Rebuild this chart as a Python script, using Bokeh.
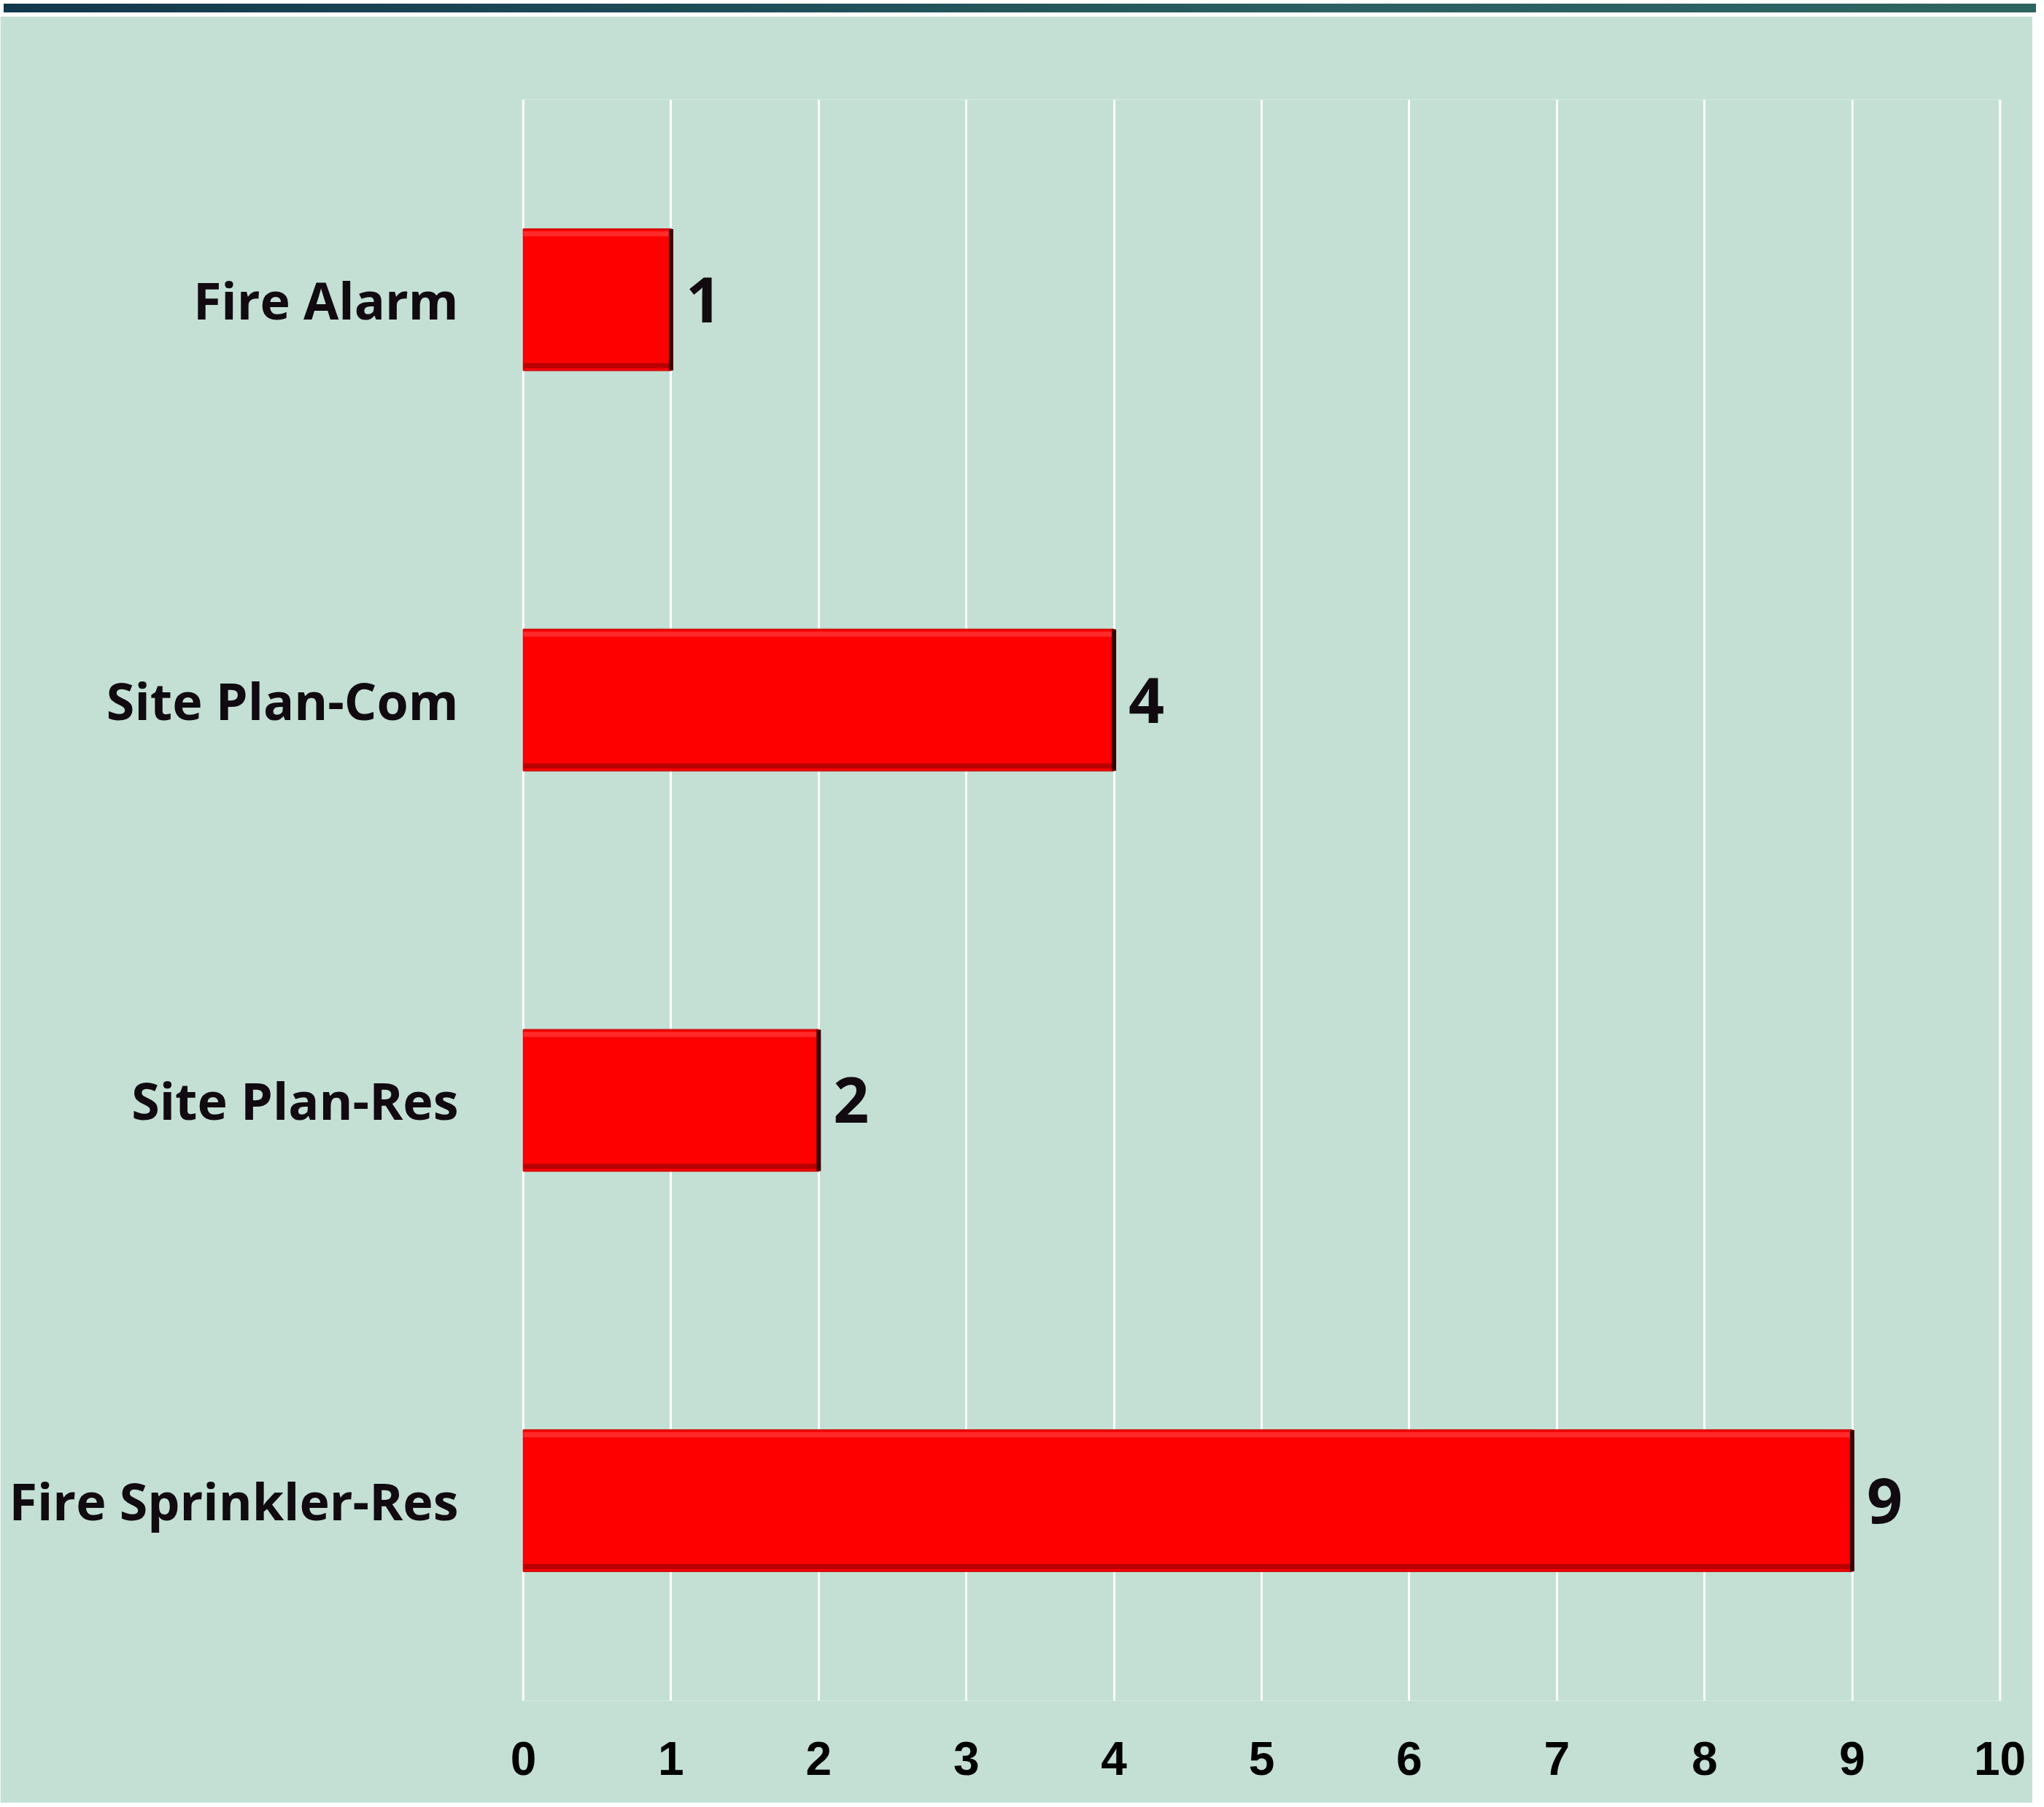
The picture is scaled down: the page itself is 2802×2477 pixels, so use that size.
from bokeh.plotting import figure
from bokeh.models import ColumnDataSource, FactorRange, Range1d, FixedTicker, Div
from bokeh.layouts import column
from bokeh.transform import dodge
from bokeh.core.properties import value
from bokeh.embed import file_html
from bokeh.resources import INLINE

# ---- data ----
categories = ["Fire Alarm", "Site Plan-Com", "Site Plan-Res", "Fire Sprinkler-Res"]
counts = [1, 4, 2, 9]
x_ticks = [0, 1, 2, 3, 4, 5, 6, 7, 8, 9, 10]

BG = "#c4e0d5"
BAR_H = 0.353
HALF = BAR_H / 2

source = ColumnDataSource(dict(
    cat=categories,
    val=counts,
    zero=[0] * len(counts),
    label=[str(v) for v in counts],
))

top_bar = Div(text="", width=2786, height=12,
              styles={"background": "linear-gradient(to right, #12384b 0%, #1d4d57 35%, #2b5f60 65%, #2d6462 100%)"})

p = figure(
    y_range=FactorRange(*reversed(categories)),
    x_range=Range1d(-0.01, 10.01),
    width=2786, height=2449,
    output_backend="svg", toolbar_location=None,
    min_border_left=715, min_border_right=43,
    min_border_top=114, min_border_bottom=140,
    background_fill_color=BG, border_fill_color=BG,
    outline_line_color=None,
)

# bars
p.hbar(y="cat", left="zero", right="val", height=BAR_H, source=source,
       fill_color="#ff0000", line_color="#d01010", line_width=2)
# bevel highlights / shadows
p.segment(x0="zero", x1="val", y0=dodge("cat", HALF - 0.012, range=p.y_range),
          y1=dodge("cat", HALF - 0.012, range=p.y_range), source=source,
          line_color="#ff2a2a", line_width=7)
p.segment(x0="zero", x1="val", y0=dodge("cat", -HALF + 0.012, range=p.y_range),
          y1=dodge("cat", -HALF + 0.012, range=p.y_range), source=source,
          line_color="#b80000", line_width=7)
p.segment(x0="val", x1="val", y0=dodge("cat", -HALF, range=p.y_range),
          y1=dodge("cat", HALF, range=p.y_range), source=source,
          line_color="#3a0000", line_width=6)

# value labels
p.text(x="val", y="cat", text="label", source=source, x_offset=20,
       text_align="left", text_baseline="middle",
       text_font=value("Open Sans"), text_font_style="bold",
       text_font_size="86px", text_color="#110a10")

# axes
p.xaxis.ticker = FixedTicker(ticks=x_ticks)
p.xaxis.axis_line_color = None
p.xaxis.major_tick_line_color = None
p.xaxis.minor_tick_line_color = None
p.xaxis.major_label_standoff = 50
p.xaxis.major_label_text_font = "Liberation Sans"
p.xaxis.major_label_text_font_style = "bold"
p.xaxis.major_label_text_font_size = "64px"
p.xaxis.major_label_text_color = "#000000"

p.yaxis.axis_line_color = None
p.yaxis.major_tick_line_color = None
p.yaxis.minor_tick_line_color = None
p.yaxis.major_label_standoff = 81
p.yaxis.major_label_text_font = "Open Sans"
p.yaxis.major_label_text_font_style = "bold"
p.yaxis.major_label_text_font_size = "70px"
p.yaxis.major_label_text_color = "#110a10"

p.xgrid.grid_line_color = "white"
p.xgrid.grid_line_width = 3
p.ygrid.grid_line_color = None

layout = column(top_bar, p, spacing=0)

open("out.html", "w").write(file_html(layout, INLINE))
